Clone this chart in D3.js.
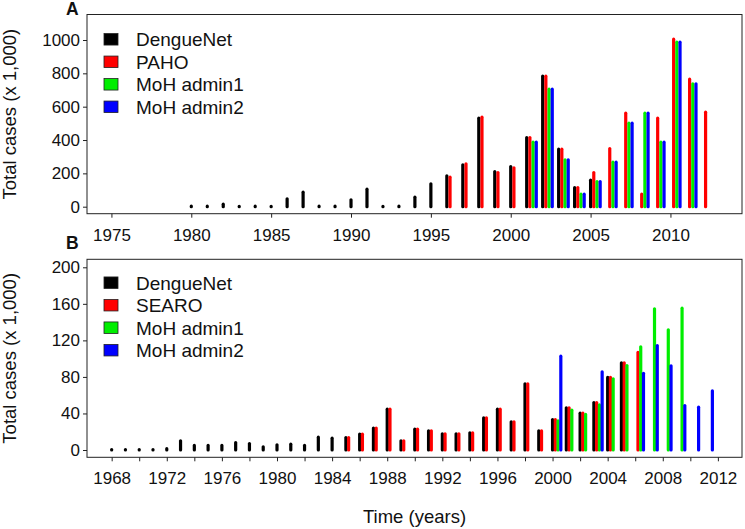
<!doctype html>
<html lang="en">
  <head>
    <meta charset="utf-8">
    <title>Dengue total cases</title>
    <style>
      body { margin: 0; background: #fff; }
      svg text { font-family: "Liberation Sans", Arial, Helvetica, sans-serif; fill: #111; }
    </style>
  </head>
  <body>
    <div id="chart"></div>

    <script src="https://cdn.jsdelivr.net/npm/d3@7"></script>
    <script>
      // ---- data (thousands of cases) ----
      // panel A
      const yearsA_dengueNet = d3.range(1980, 2006);
      const valsA_dengueNet = [3, 3, 15, 2, 3, 2, 47, 87, 3, 3, 41, 105, 2, 3, 57, 137, 185, 251, 531, 211, 241, 415, 783, 345, 115, 159];
      const yearsA_paho = d3.range(1996, 2013);
      const valsA_paho = [177, 257, 537, 205, 233, 415, 783, 345, 115, 205, 349, 561, 75, 531, 1005, 765, 567];
      const yearsA_admin1 = d3.range(2001, 2012);
      const valsA_admin1 = [387, 705, 281, 75, 151, 267, 501, 561, 387, 987, 737];
      const yearsA_admin2 = d3.range(2001, 2012);
      const valsA_admin2 = [387, 705, 281, 75, 151, 267, 501, 561, 387, 987, 737];

      // panel B
      const yearsB_dengueNet = d3.range(1968, 2006);
      const valsB_dengueNet = [0.5, 0.5, 0.5, 0.5, 1.5, 10, 5, 5, 5, 8.2, 7.1, 3.5, 5.7, 6.4, 5, 14, 12.9, 13.6, 17.3, 24,
        44.7, 10, 22.8, 21, 17.7, 17.7, 18.8, 35.2, 44.7, 30.9, 72.5, 21, 33.4, 46.2, 40.3, 52, 79.4, 95.5];
      const yearsB_searo = d3.range(1985, 2007);
      const valsB_searo = [13.6, 17.3, 24, 44.7, 10, 22.8, 21, 17.7, 17.7, 18.8, 35.2, 44.7, 30.9, 72.5, 21, 33.4, 46.2,
        40.3, 52, 79.4, 95.5, 106.8];
      const yearsB_admin1 = d3.range(2000, 2010);
      const valsB_admin1 = [32, 43.6, 38.9, 49.5, 78, 92.5, 113, 154.6, 131.6, 155.3];
      const yearsB_admin2 = [2000, 2003, 2006, 2007, 2008, 2009, 2010, 2011];
      const valsB_admin2 = [102.7, 85.6, 84, 114.4, 92.2, 48.7, 46.9, 64.8];

      const ticksA_x = d3.range(1975, 2011, 5);
      const ticksA_y = d3.range(0, 1001, 200);
      const ticksB_x = d3.range(1968, 2013, 2);
      const ticksB_y = d3.range(0, 201, 40);

      const colors = ["#000000", "#ff0000", "#00ee00", "#0000ff"];
      const offsets = [0, 0.2, 0.4, 0.6]; // years, side by side

      const width = 745, height = 529;
      const left = 87, right = 742;

      const svg = d3.select("#chart").append("svg")
        .attr("width", width)
        .attr("height", height);

      function zip(years, vals) {
        return years.map((y, i) => ({ year: y, value: vals[i] }));
      }

      function drawPanel(p) {
        const g = svg.append("g");

        const x = d3.scaleLinear().domain(p.xDomain).range([left, right]);
        const y = d3.scaleLinear().domain([0, p.yMax]).range([p.y0, p.yTop]);

        // bars (R type="h" style lines)
        p.series.forEach((s, i) => {
          g.selectAll(".bar" + i)
            .data(s.data)
            .enter().append("line")
            .attr("x1", d => x(d.year + offsets[i]))
            .attr("x2", d => x(d.year + offsets[i]))
            .attr("y1", y(0))
            .attr("y2", d => y(d.value))
            .attr("stroke", colors[i])
            .attr("stroke-width", 3.2)
            .attr("stroke-linecap", "round");
        });

        // y axis
        const ya = g.append("g")
          .attr("transform", "translate(" + left + ",0)")
          .call(d3.axisLeft(y).tickValues(p.yTicks).tickSize(4).tickPadding(3).tickFormat(d3.format("d")));
        ya.select(".domain").remove();
        ya.selectAll("text").attr("font-size", 17).attr("fill", "#111");
        ya.selectAll("line").attr("stroke", "#222");

        // x axis
        const xa = g.append("g")
          .attr("transform", "translate(0," + p.boxBottom + ")")
          .call(d3.axisBottom(x).tickValues(p.xTicks).tickSize(4).tickPadding(11)
            .tickFormat(p.xFormat || (d => d)));
        xa.select(".domain").remove();
        xa.selectAll("text").attr("font-size", 17).attr("fill", "#111");
        xa.selectAll("line").attr("stroke", "#222");

        // frame
        g.append("rect")
          .attr("x", left).attr("y", p.boxTop)
          .attr("width", right - left).attr("height", p.boxBottom - p.boxTop)
          .attr("fill", "none").attr("stroke", "#222").attr("stroke-width", 1);

        // y title
        g.append("text")
          .attr("transform", "translate(16," + ((p.boxTop + p.boxBottom) / 2) + ") rotate(-90)")
          .attr("text-anchor", "middle")
          .attr("font-size", 18.5)
          .text("Total cases (x 1,000)");

        // panel letter
        g.append("text")
          .attr("x", 66).attr("y", p.letterY)
          .attr("font-size", 17.5).attr("font-weight", "bold")
          .text(p.letter);

        // legend
        const lg = g.selectAll(".leg")
          .data(p.series)
          .enter().append("g")
          .attr("transform", (d, i) => "translate(104," + (p.legendY + i * 22.5) + ")");
        lg.append("rect")
          .attr("x", 0).attr("y", -5.75)
          .attr("width", 14).attr("height", 11.5)
          .attr("fill", (d, i) => colors[i])
          .attr("stroke", "#222").attr("stroke-width", 0.8);
        lg.append("text")
          .attr("x", 32).attr("dy", "0.36em")
          .attr("font-size", 19)
          .text(d => d.name);
      }

      drawPanel({
        letter: "A", letterY: 15,
        boxTop: 14.5, boxBottom: 213.7,
        xDomain: [1973.47, 2014.48],
        yMax: 1000, y0: 206.7, yTop: 40,
        xTicks: ticksA_x, yTicks: ticksA_y,
        legendY: 39.3,
        series: [
          { name: "DengueNet", data: zip(yearsA_dengueNet, valsA_dengueNet) },
          { name: "PAHO", data: zip(yearsA_paho, valsA_paho) },
          { name: "MoH admin1", data: zip(yearsA_admin1, valsA_admin1) },
          { name: "MoH admin2", data: zip(yearsA_admin2, valsA_admin2) }
        ]
      });

      drawPanel({
        letter: "B", letterY: 249,
        boxTop: 259.3, boxBottom: 457.3,
        xDomain: [1966.21, 2013.75],
        yMax: 200, y0: 450, yTop: 267.3,
        xTicks: ticksB_x, yTicks: ticksB_y,
        xFormat: d => ((d - 1968) % 4 === 0 ? d : ""),
        legendY: 282.7,
        series: [
          { name: "DengueNet", data: zip(yearsB_dengueNet, valsB_dengueNet) },
          { name: "SEARO", data: zip(yearsB_searo, valsB_searo) },
          { name: "MoH admin1", data: zip(yearsB_admin1, valsB_admin1) },
          { name: "MoH admin2", data: zip(yearsB_admin2, valsB_admin2) }
        ]
      });

      // shared x title
      svg.append("text")
        .attr("x", (left + right) / 2).attr("y", 523)
        .attr("text-anchor", "middle")
        .attr("font-size", 18.5)
        .text("Time (years)");
    </script>
  </body>
</html>
